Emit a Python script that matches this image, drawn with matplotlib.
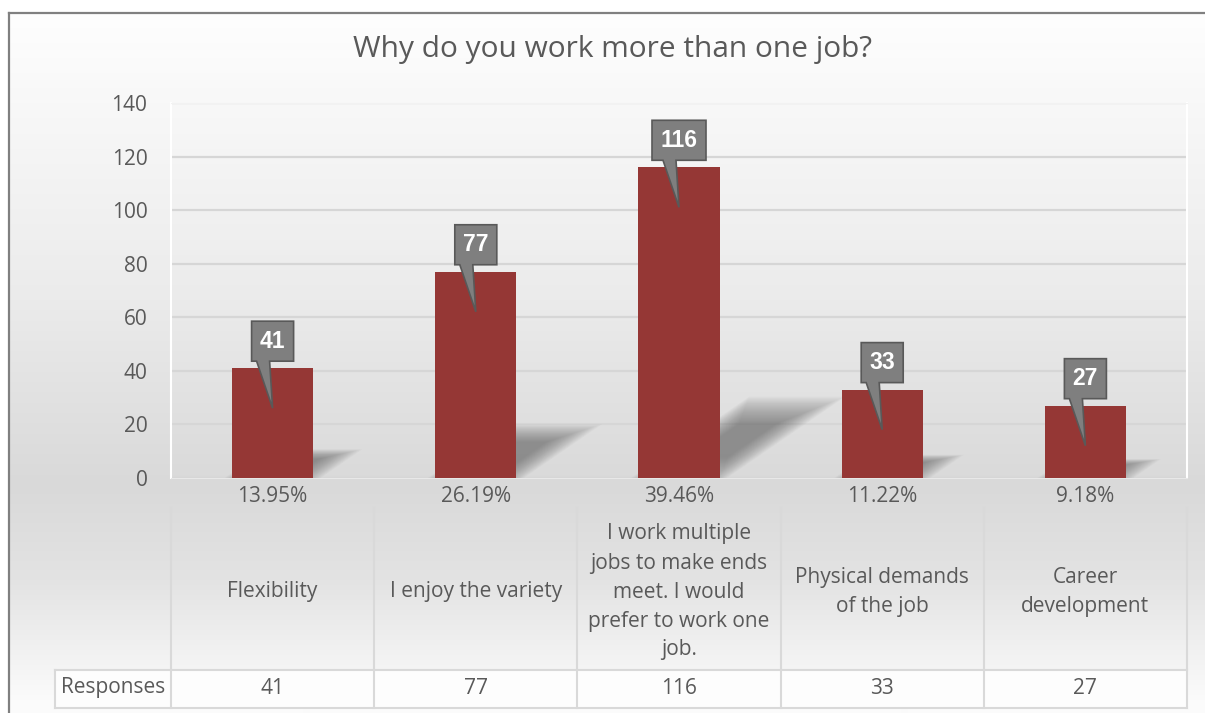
import numpy as np
import matplotlib.pyplot as plt
from matplotlib.patches import Polygon, Rectangle
from matplotlib.transforms import IdentityTransform

plt.rcParams['font.family'] = ['Open Sans', 'DejaVu Sans']

categories = ["Flexibility", "I enjoy the variety",
              "I work multiple\njobs to make ends\nmeet. I would\nprefer to work one\njob.",
              "Physical demands\nof the job", "Career\ndevelopment"]
responses = [41, 77, 116, 33, 27]
percents = ["13.95%", "26.19%", "39.46%", "11.22%", "9.18%"]
yticks = [0, 20, 40, 60, 80, 100, 120, 140]

W, H = 1205, 713
txt = '#595959'
fs = 15
fig = plt.figure(figsize=(W / 100, H / 100), dpi=100)

# full-figure backdrop in pixel units (y down)
bg = fig.add_axes([0, 0, 1, 1], zorder=0)
rows = np.linspace(13, H, 700)
shade = np.interp(rows, [13, 103, 300, 485, 580, 700], [254, 248, 235, 217, 227, 251]) / 255
grad = np.dstack([np.repeat(shade[:, None], 2, axis=1)] * 3)
bg.imshow(grad, extent=[9, W, H, 13], aspect='auto', interpolation='bilinear')
bg.set_xlim(0, W)
bg.set_ylim(H, 0)
bg.axis('off')
bg.plot([9, 9], [H, 13], color='#808080', lw=1.6)
bg.plot([9, W], [13, 13], color='#808080', lw=1.6)

# main chart
ax = fig.add_axes([171 / W, 1 - 478 / H, 1016 / W, 375 / H], zorder=2)
ax.set_facecolor('none')
x = np.arange(len(responses))
ax.set_xlim(-0.5, len(responses) - 0.5)
ax.set_ylim(0, 140)
ax.set_yticks(yticks)
ax.set_xticks([])
ax.yaxis.grid(True, color='#d6d6d6', lw=1.6)
ax.set_axisbelow(True)
ax.tick_params(axis='y', length=0, pad=17, labelsize=fs, labelcolor=txt)
for s in ['left', 'right']:
    ax.spines[s].set_color('white')
    ax.spines[s].set_linewidth(1.5)
ax.spines['top'].set_color('#f2f2f2')
ax.spines['bottom'].set_color('#e8e8e8')

bw = 0.4
ax.bar(x, responses, width=bw, color='#953735', zorder=4)

# perspective shadows behind bars, faked blur with stacked translucent layers
for xi, v in zip(x, responses):
    dx, dy = 0.0046 * v, 0.24 * v
    pts = np.array([[xi - bw / 2, 0], [xi + bw / 2, 0],
                    [xi + bw / 2 + dx, dy], [xi - bw / 2 + dx, dy]])
    c = pts.mean(axis=0)
    for k in range(22):
        f = 1.18 - 0.035 * k
        ax.add_patch(Polygon(c + (pts - c) * f, closed=True, facecolor='#606060',
                             edgecolor='none', alpha=0.04, joinstyle='round', zorder=3))

# callouts
for xi, v in zip(x, responses):
    px, py = ax.transData.transform((xi, v))
    bot = py + 7
    top = bot + 40
    half = 21 if v < 100 else 27
    tip = py - 40
    verts = [(px - half, top), (px + half, top), (px + half, bot), (px - 3, bot),
             (px, tip), (px - 16, bot), (px - half, bot)]
    ax.add_patch(Polygon(verts, closed=True, facecolor='#7f7f7f', edgecolor='#595959',
                         lw=1.2, transform=IdentityTransform(), clip_on=False, zorder=6))
    ax.annotate(str(v), xy=(xi, v), xytext=(0, 27), textcoords='offset pixels',
                ha='center', va='center', color='white', fontsize=16.5, fontweight='bold',
                family=['Liberation Sans'], zorder=7)

fig.text(613 / W, 1 - 50 / H, "Why do you work more than one job?", ha='center',
         va='center', fontsize=21.5, color=txt)

# data table under the axis
xb = [ax.transData.transform((i - 0.5, 0))[0] for i in range(len(responses) + 1)]
bg.add_patch(Rectangle((55, 670), xb[-1] - 55, 38, facecolor='#fdfdfd', edgecolor='none'))
lc = '#d9d9d9'
for xv in xb:
    bg.plot([xv, xv], [508, 708], color=lc, lw=1.5)
bg.plot([55, 55], [670, 708], color=lc, lw=1.5)
bg.plot([55, xb[-1]], [670, 670], color=lc, lw=1.5)
bg.plot([55, xb[-1]], [708, 708], color=lc, lw=1.5)
bg.text(113, 688, "Responses", ha='center', va='center', fontsize=fs, color=txt)
for i in range(len(responses)):
    cx = (xb[i] + xb[i + 1]) / 2
    bg.text(cx, 497, percents[i], ha='center', va='center', fontsize=fs, color=txt)
    bg.text(cx, 592, categories[i], ha='center', va='center', fontsize=fs,
            color=txt, linespacing=1.5)
    bg.text(cx, 688, str(responses[i]), ha='center', va='center', fontsize=fs, color=txt)

fig.savefig('out.png', dpi=100)
